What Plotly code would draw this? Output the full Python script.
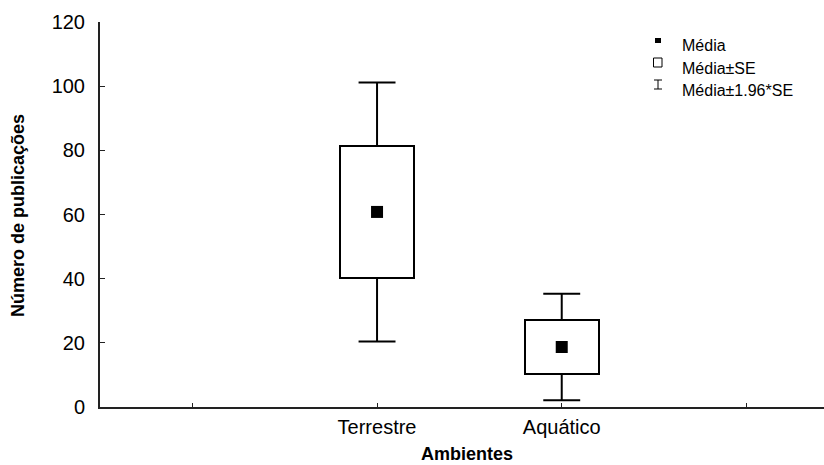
import plotly.graph_objects as go

categories = ["Terrestre", "Aquático"]
cat_pos = [1, 2]
means = [60.8, 18.7]
se = [20.6, 8.45]
tick_vals = [0, 1, 2, 3]
tick_text = ["", "Terrestre", "Aquático", ""]

W, H = 824, 465
L, R, T, B = 100, 0, 22, 58
pw, ph = W - L - R, H - T - B


def px(x):
    return (x - L) / pw


def py(y):
    return (H - B - y) / ph


fig = go.Figure()

# boxes: mean ± SE
fig.add_trace(go.Bar(
    x=cat_pos,
    y=[2 * s for s in se],
    base=[m - s for m, s in zip(means, se)],
    width=0.4,
    marker=dict(color="white", line=dict(color="black", width=2)),
    showlegend=False, hoverinfo="skip",
))

# whiskers: mean ± 1.96*SE
wx, wy = [], []
cap = 0.1
for x, m, s in zip(cat_pos, means, se):
    hi, lo = m + 1.96 * s, m - 1.96 * s
    wx += [x, x, None, x, x, None, x - cap, x + cap, None, x - cap, x + cap, None]
    wy += [m + s, hi, None, m - s, lo, None, hi, hi, None, lo, lo, None]
fig.add_trace(go.Scatter(
    x=wx, y=wy, mode="lines", line=dict(color="black", width=2),
    showlegend=False, hoverinfo="skip",
))

# mean markers
fig.add_trace(go.Scatter(
    x=cat_pos, y=means, mode="markers",
    marker=dict(symbol="square", size=12, color="black"),
    showlegend=False,
))

font_family = "Liberation Sans, Arial, sans-serif"

fig.update_layout(
    width=W, height=H,
    margin=dict(l=L, r=R, t=T, b=B),
    paper_bgcolor="white", plot_bgcolor="white",
    font=dict(family=font_family, color="black"),
    bargap=0,
)
fig.update_xaxes(
    range=[-0.5, 3.42], tickvals=tick_vals, ticktext=tick_text,
    showline=True, linecolor="#222", linewidth=2, showgrid=False, zeroline=False,
    ticks="inside", ticklen=4, tickwidth=1, tickcolor="#222",
    tickfont=dict(size=20, family=font_family, color="black"),
    ticklabelstandoff=1,
)
fig.update_yaxes(
    range=[0, 120], dtick=20,
    showline=True, linecolor="#222", linewidth=2, showgrid=False, zeroline=False,
    ticks="inside", ticklen=5, tickwidth=1, tickcolor="#222",
    tickfont=dict(size=20, family=font_family, color="black"),
    ticklabelstandoff=9,
)

annotations = [
    dict(text="<b>Ambientes</b>", x=px(467), y=py(454), xref="paper", yref="paper",
         showarrow=False, font=dict(size=18, family=font_family, color="black"),
         xanchor="center", yanchor="middle"),
    dict(text="<b>Número de publicações</b>", x=px(18), y=py(216), xref="paper", yref="paper",
         showarrow=False, textangle=-90, font=dict(size=18, family=font_family, color="black"),
         xanchor="center", yanchor="middle"),
]
legend_labels = ["Média", "Média±SE", "Média±1.96*SE"]
legend_y = [45, 68, 91]
for lab, yy in zip(legend_labels, legend_y):
    annotations.append(dict(text=lab, x=px(680), y=py(yy), xref="paper", yref="paper",
                            showarrow=False, xanchor="left", yanchor="middle",
                            font=dict(size=16, family=font_family, color="black")))

shapes = [
    # filled square (Média)
    dict(type="rect", xref="paper", yref="paper", x0=px(655), x1=px(661), y0=py(38), y1=py(43),
         fillcolor="black", line=dict(width=0)),
    # open square (Média±SE)
    dict(type="rect", xref="paper", yref="paper", x0=px(653.5), x1=px(662), y0=py(58), y1=py(67),
         fillcolor="white", line=dict(color="black", width=1)),
    # I-beam (Média±1.96*SE)
    dict(type="line", xref="paper", yref="paper", x0=px(658), x1=px(658), y0=py(80), y1=py(89),
         line=dict(color="black", width=1)),
    dict(type="line", xref="paper", yref="paper", x0=px(654), x1=px(662), y0=py(80), y1=py(80),
         line=dict(color="black", width=1)),
    dict(type="line", xref="paper", yref="paper", x0=px(654), x1=px(662), y0=py(89), y1=py(89),
         line=dict(color="black", width=1)),
]
fig.update_layout(annotations=annotations, shapes=shapes)

fig.write_html(
    "out.html",
    config={"displayModeBar": False},
    post_script="document.body.style.margin='0';document.body.style.overflow='hidden';",
)
